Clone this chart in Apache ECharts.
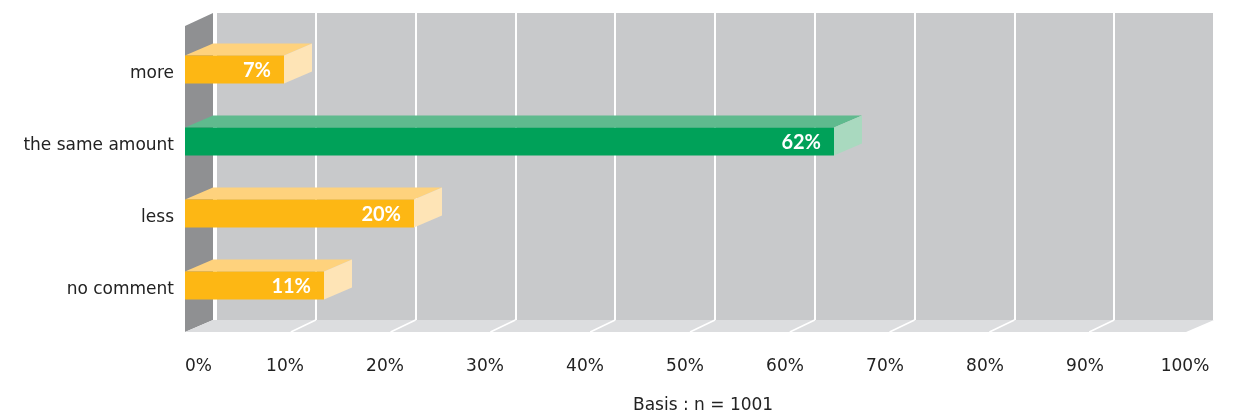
<!DOCTYPE html>
<html>
<head>
<meta charset="utf-8">
<script src="https://cdn.jsdelivr.net/npm/echarts@6/dist/echarts.min.js"></script>
<style>
  html, body { margin: 0; padding: 0; background: #fff; }
  #chart { width: 1236px; height: 417px; }
</style>
</head>
<body>
<div id="chart"></div>
<script>
var categories = ['more', 'the same amount', 'less', 'no comment'];
var values = [7, 62, 20, 11];
var barColors = ['orange', 'green', 'orange', 'orange'];
var ticks = [0, 10, 20, 30, 40, 50, 60, 70, 80, 90, 100];
var axisTitle = 'Basis : n = 1001';

// 3d depth of the box
var DX = 28, DY = 12;
var palette = {
    orange: { front: '#fdb714', top: '#fed27d', side: '#fee4b6' },
    green: { front: '#00a159', top: '#5fba8e', side: '#a9d9bf' }
};
var FONT = '"DejaVu Sans", sans-serif';
var BAR_FONT = 'Lato, "Noto Sans", sans-serif';

var chart = echarts.init(document.getElementById('chart'));

var option = {
    animation: false,
    title: {
        text: axisTitle,
        left: 628, top: 392,
        textStyle: { fontFamily: FONT, fontSize: 17, fontWeight: 'normal', color: '#222' }
    },
    grid: [
        // back wall
        { left: 216, right: 22, top: 13, bottom: 97, show: true, backgroundColor: '#c8c9cb', borderWidth: 0 },
        // front plane
        { left: 185, right: 51, top: 34, bottom: 95 }
    ],
    xAxis: [
        {
            gridIndex: 0, type: 'value', min: 0, max: 100, interval: 10,
            axisLine: { show: false }, axisTick: { show: false }, axisLabel: { show: false },
            splitLine: { show: true, lineStyle: { color: '#ffffff', width: 2 } }
        },
        {
            gridIndex: 1, type: 'value', min: 0, max: 100, interval: 10,
            axisLine: { show: false }, axisTick: { show: false }, splitLine: { show: false },
            axisLabel: {
                formatter: '{value}%', margin: 36, fontFamily: FONT, fontSize: 17, color: '#222',
                alignMinLabel: 'left'
            }
        }
    ],
    yAxis: [
        { gridIndex: 0, type: 'value', min: 0, max: 1, show: false },
        {
            gridIndex: 1, type: 'category', data: categories, inverse: true,
            axisLine: { show: false }, axisTick: { show: false },
            axisLabel: { margin: 11, fontFamily: FONT, fontSize: 17, color: '#222',
                         verticalAlign: 'top', lineHeight: 8 }
        }
    ],
    series: [
        {
            // side wall and floor
            type: 'custom', xAxisIndex: 0, yAxisIndex: 0, z: 1,
            data: [[0, 0]],
            renderItem: function (params, api) {
                var bl = api.coord([0, 0]);
                var tl = api.coord([0, 1]);
                var br = api.coord([100, 0]);
                var lx = bl[0] - 3;
                return {
                    type: 'group',
                    children: [
                        { type: 'polygon', shape: { points: [[lx - DX, tl[1] + DY + 1], [lx, tl[1]], [lx, bl[1]], [lx - DX, bl[1] + DY]] },
                          style: { fill: '#8f9092' } },
                        { type: 'polygon', shape: { points: [[lx - DX, bl[1] + DY], [lx, bl[1]], [br[0], bl[1]], [br[0] - DX, bl[1] + DY]] },
                          style: { fill: '#dcdddf' } }
                    ]
                };
            }
        },
        {
            // grid lines continuing on the floor
            type: 'custom', xAxisIndex: 0, yAxisIndex: 0, z: 2,
            data: ticks.slice(1, -1).map(function (t) { return [t, 0]; }),
            renderItem: function (params, api) {
                var p = api.coord([api.value(0), 0]);
                return {
                    type: 'line',
                    shape: { x1: p[0], y1: p[1], x2: p[0] - DX + 3, y2: p[1] + DY },
                    style: { stroke: '#ffffff', lineWidth: 1.5 }
                };
            }
        },
        {
            // 3d bars
            type: 'custom', xAxisIndex: 1, yAxisIndex: 1, z: 3,
            data: values.map(function (v, i) { return [v, i]; }),
            renderItem: function (params, api) {
                var v = api.value(0);
                var idx = api.value(1);
                var c = palette[barColors[idx]];
                var p0 = api.coord([0, idx]);
                var p1 = api.coord([v, idx]);
                var x0 = p0[0], x1 = p1[0] + DX + 1;
                var h = 28;
                var yt = p0[1] - h / 2 - 0.5, yb = yt + h;
                return {
                    type: 'group',
                    children: [
                        { type: 'polygon', shape: { points: [[x0, yt], [x1, yt], [x1 + DX, yt - DY], [x0 + DX, yt - DY]] },
                          style: { fill: c.top } },
                        { type: 'polygon', shape: { points: [[x1, yt], [x1 + DX, yt - DY], [x1 + DX, yb - DY], [x1, yb]] },
                          style: { fill: c.side } },
                        { type: 'rect', shape: { x: x0, y: yt, width: x1 - x0, height: h },
                          style: { fill: c.front } },
                        { type: 'text', x: x1 - 13, y: yt + h / 2 + 1,
                          style: { text: v + '%', align: 'right', verticalAlign: 'middle', fill: '#ffffff',
                                   font: 'bold 20px ' + BAR_FONT } }
                    ]
                };
            }
        }
    ]
};

chart.setOption(option);
</script>
</body>
</html>
